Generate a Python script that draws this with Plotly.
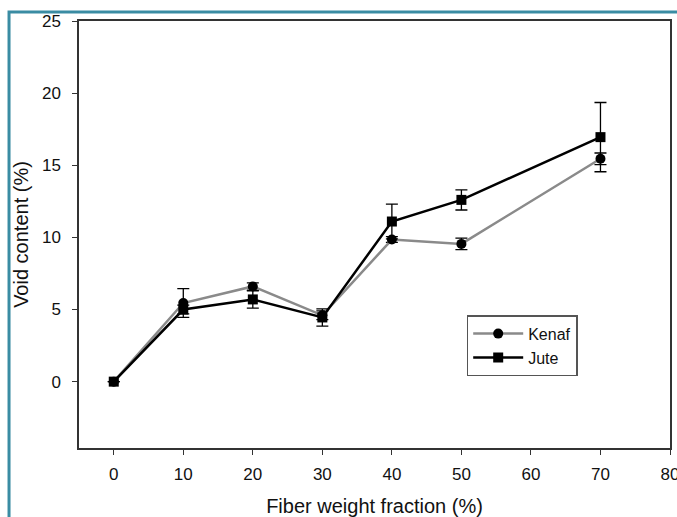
import plotly.graph_objects as go

fiber_fraction = [0, 10, 20, 30, 40, 50, 70]
kenaf_void = [0.0, 5.45, 6.6, 4.6, 9.85, 9.55, 15.45]
kenaf_err = [0.0, 1.0, 0.25, 0.3, 0.2, 0.4, 0.4]
jute_void = [0.0, 5.0, 5.7, 4.45, 11.1, 12.6, 16.95]
jute_err = [0.0, 0.3, 0.6, 0.6, 1.2, 0.7, 2.4]

x_ticks = [0, 10, 20, 30, 40, 50, 60, 70, 80]
y_ticks = [0, 5, 10, 15, 20, 25]

font_family = "Liberation Sans, Arial, sans-serif"

fig = go.Figure()
fig.add_trace(go.Scatter(
    x=fiber_fraction, y=kenaf_void, name="Kenaf", mode="lines+markers",
    line=dict(color="#8a8a8a", width=2.5),
    marker=dict(symbol="circle", size=10, color="#000000"),
    error_y=dict(type="data", array=kenaf_err, visible=True, color="#000000", thickness=1.3, width=6),
))
fig.add_trace(go.Scatter(
    x=fiber_fraction, y=jute_void, name="Jute", mode="lines+markers",
    line=dict(color="#000000", width=2.5),
    marker=dict(symbol="square", size=10, color="#000000"),
    error_y=dict(type="data", array=jute_err, visible=True, color="#000000", thickness=1.3, width=6),
))

fig.add_shape(type="rect", xref="paper", yref="paper",
              x0=-0.1184, x1=1.2, y0=-0.4, y1=1.021,
              line=dict(color="#3a8ca3", width=3), fillcolor="rgba(0,0,0,0)")

fig.update_layout(
    width=677, height=517,
    margin=dict(l=79, r=7, t=21, b=69, autoexpand=False),
    paper_bgcolor="white", plot_bgcolor="white",
    font=dict(family=font_family, size=17, color="#111111"),
    showlegend=True,
    legend=dict(x=0.656, y=0.311, xanchor="left", yanchor="top",
                bordercolor="#555555", borderwidth=1.5, bgcolor="white",
                font=dict(size=16), itemwidth=50, tracegroupgap=0),
    xaxis=dict(range=[-5, 80], tickvals=x_ticks, ticks="outside", ticklen=5,
               tickcolor="#333333", showline=True, linecolor="#333333", linewidth=1.5,
               mirror=True, showgrid=False, zeroline=False, ticklabelstandoff=5,
               automargin=False, tickfont=dict(size=17), ticklabeloverflow="allow",
               title=dict(text="Fiber weight fraction (%)", font=dict(size=20), standoff=17)),
    yaxis=dict(range=[-4.6, 25], tickvals=y_ticks, ticks="outside", ticklen=5,
               tickcolor="#333333", showline=True, linecolor="#333333", linewidth=1.5,
               mirror=True, showgrid=False, zeroline=False, ticklabelstandoff=8,
               automargin=False, tickfont=dict(size=17), ticklabeloverflow="allow",
               title=dict(text="Void content (%)", font=dict(size=20), standoff=8)),
)

fig.write_html("out.html", config={"displayModeBar": False},
               post_script="document.body.style.margin='0px';document.body.style.overflow='hidden';")
